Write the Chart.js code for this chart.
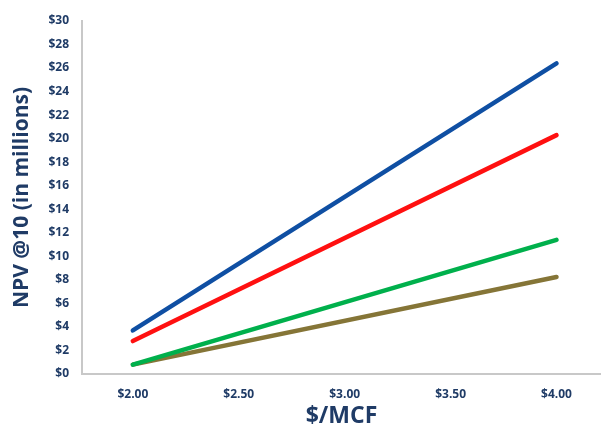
<!DOCTYPE html>
<html>
<head>
<meta charset="utf-8">
<script src="https://cdn.jsdelivr.net/npm/chart.js@4/dist/chart.umd.min.js"></script>
<style>
html,body{margin:0;padding:0;background:#fff;}
#wrap{width:601px;height:438px;position:relative;}
</style>
</head>
<body>
<div id="wrap"><canvas id="c" width="601" height="438"></canvas></div>
<script>
const prices = [2.0, 4.0];
const xTicks = [2.0, 2.5, 3.0, 3.5, 4.0];
const seriesBlue = [3.7, 26.4];
const seriesRed = [2.8, 20.3];
const seriesGreen = [0.8, 11.4];
const seriesBrown = [0.8, 8.25];

const navy = '#1F3B66';
function pts(vals){ return prices.map((p,i)=>({x:p,y:vals[i]})); }
function ds(vals,color){
  return {data:pts(vals),borderColor:color,backgroundColor:color,borderWidth:4.5,
    pointRadius:0,borderCapStyle:'round',tension:0,fill:false};
}

new Chart(document.getElementById('c'),{
  type:'line',
  data:{datasets:[ds(seriesGreen,'#00B04C'),ds(seriesBrown,'#857537'),ds(seriesRed,'#FF1010'),ds(seriesBlue,'#0F4FA3')]},
  options:{
    responsive:false,animation:false,
    layout:{padding:{top:21,right:0,left:0,bottom:0}},
    plugins:{legend:{display:false},tooltip:{enabled:false}},
    scales:{
      x:{type:'linear',min:1.76,max:4.21,
        afterBuildTicks:s=>{s.ticks=xTicks.map(v=>({value:v}));},
        afterFit:s=>{s.height=64;},
        grid:{display:false,drawTicks:false},
        border:{display:true,color:'#C8C8C8',width:2},
        ticks:{padding:13,color:navy,font:{family:'Open Sans',size:12,weight:'bold'},
          callback:v=>'$'+Number(v).toFixed(2)},
        title:{display:true,text:'$/MCF',color:navy,padding:{top:0,bottom:8},
          font:{family:'Open Sans',size:23,weight:'bold'}}
      },
      y:{min:0,max:30,
        afterBuildTicks:s=>{const t=[];for(let v=0;v<=30;v+=2)t.push({value:v});s.ticks=t;},
        afterFit:s=>{s.width=82;},
        grid:{display:false,drawTicks:false},
        border:{display:true,color:'#C8C8C8',width:2},
        ticks:{padding:13,color:navy,font:{family:'Open Sans',size:12,weight:'bold'},
          callback:v=>'$'+v},
        title:{display:true,text:'NPV @10 (in millions)',color:navy,padding:{top:9,bottom:0},
          font:{family:'Open Sans',size:21,weight:'bold'}}
      }
    }
  }
});
</script>
</body>
</html>
